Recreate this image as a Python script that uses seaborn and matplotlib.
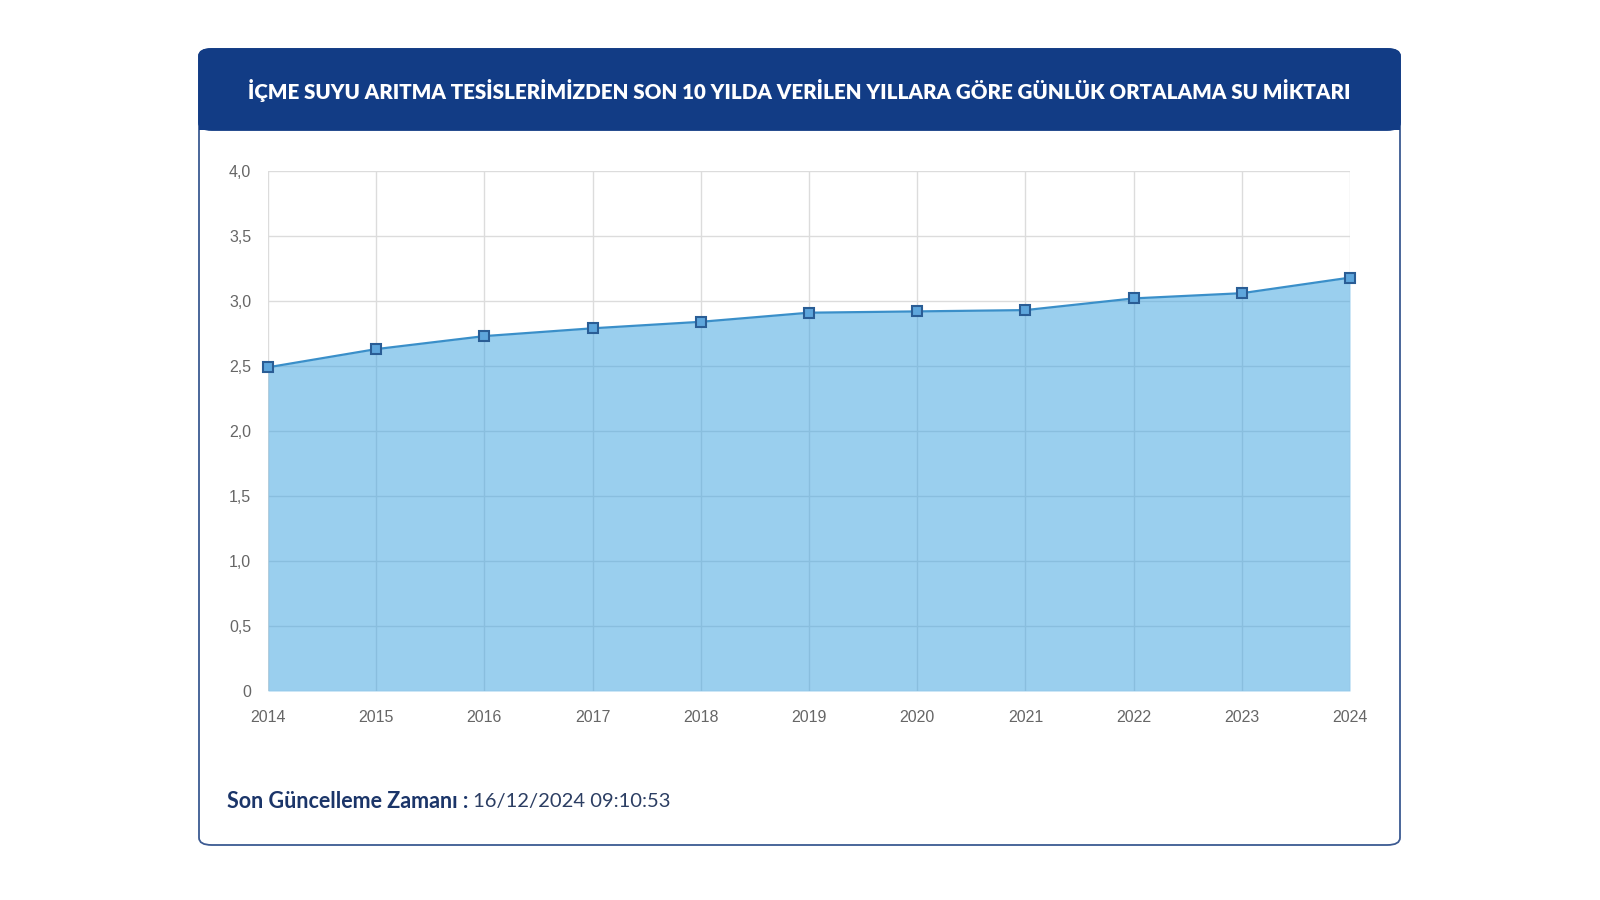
#Load all the libraries
import numpy as np
import matplotlib.pyplot as plt
import pandas as pd
import seaborn as sns
from matplotlib.patches import FancyBboxPatch, Rectangle

# data
years = [2014, 2015, 2016, 2017, 2018, 2019, 2020, 2021, 2022, 2023, 2024]
daily_avg = [2.49, 2.63, 2.73, 2.79, 2.84, 2.91, 2.92, 2.93, 3.02, 3.06, 3.18]
y_ticks = [0, 0.5, 1.0, 1.5, 2.0, 2.5, 3.0, 3.5, 4.0]
y_tick_labels = ['0', '0,5', '1,0', '1,5', '2,0', '2,5', '3,0', '3,5', '4,0']

title = 'İÇME SUYU ARITMA TESİSLERİMİZDEN SON 10 YILDA VERİLEN YILLARA GÖRE GÜNLÜK ORTALAMA SU MİKTARI'
footer_label = 'Son Güncelleme Zamanı :'
footer_value = ' 16/12/2024 09:10:53'

df = pd.DataFrame({'year': years, 'value': daily_avg})

sns.set_theme(style='white')
plt.rcParams['font.family'] = ['Liberation Sans', 'DejaVu Sans']

navy = '#123c85'
fig = plt.figure(figsize=(16, 9), dpi=100)

# card with header band
card = FancyBboxPatch((199 / 1600, 1 - 845 / 900), 1201 / 1600, 796 / 900,
                      boxstyle='round,pad=0,rounding_size=0.008',
                      transform=fig.transFigure, facecolor='white',
                      edgecolor='#3c5a92', linewidth=1.3, zorder=-2)
fig.patches.append(card)
header = FancyBboxPatch((199 / 1600, 1 - 130 / 900), 1201 / 1600, 81 / 900,
                        boxstyle='round,pad=0,rounding_size=0.008',
                        transform=fig.transFigure, facecolor=navy,
                        edgecolor=navy, linewidth=1.3, zorder=-1)
fig.patches.append(header)
# square off the bottom corners of the header
fig.patches.append(Rectangle((199 / 1600, 1 - 130 / 900), 1201 / 1600, 20 / 900,
                             transform=fig.transFigure, facecolor=navy,
                             edgecolor='none', zorder=-1))
fig.text(799 / 1600, 1 - 91 / 900, title, ha='center', va='center', color='white',
         fontsize=14.8, fontweight='heavy', family=['Lato', 'DejaVu Sans'], zorder=2)

ax = fig.add_axes([268 / 1600, 1 - 691 / 900, (1350 - 268) / 1600, (691 - 171) / 900])
ax.set_zorder(5)
ax.patch.set_alpha(0)
ax.fill_between(df['year'], df['value'], 0, color='#3ea3e0', alpha=0.52, linewidth=0, zorder=1)
sns.lineplot(data=df, x='year', y='value', ax=ax, color='#3a8fc9', linewidth=1.6,
             marker='s', markersize=7, markerfacecolor='#5ea6dc',
             markeredgecolor='#2a5d95', markeredgewidth=1.5, zorder=3, clip_on=False)

ax.set_xlim(years[0], years[-1])
ax.set_ylim(0, 4.0)
ax.set_xticks(years)
ax.set_xticklabels([str(y) for y in years])
ax.set_yticks(y_ticks)
ax.set_yticklabels(y_tick_labels)
ax.set_xlabel('')
ax.set_ylabel('')
ax.grid(True, color='#dcdcdc', linewidth=1, zorder=0)
ax.set_axisbelow(True)
for s in ax.spines.values():
    s.set_visible(False)
ax.tick_params(axis='both', labelsize=11.5, labelcolor='#666666', color='#dcdcdc',
               length=8, width=1, pad=4)
ax.tick_params(axis='x', pad=6)

t1 = fig.text(227 / 1600, 1 - 801 / 900, footer_label, ha='left', va='center',
              color='#1b3569', fontsize=15.5, fontweight='bold', family=['Lato', 'DejaVu Sans'])
fig.canvas.draw()
bb = t1.get_window_extent()
fig.text(bb.x1 / 1600, 1 - 801 / 900, footer_value, ha='left', va='center',
         color='#2c3e63', fontsize=14.5, family=['Lato', 'DejaVu Sans'])

fig.savefig('out.png', dpi=100, facecolor='white')
